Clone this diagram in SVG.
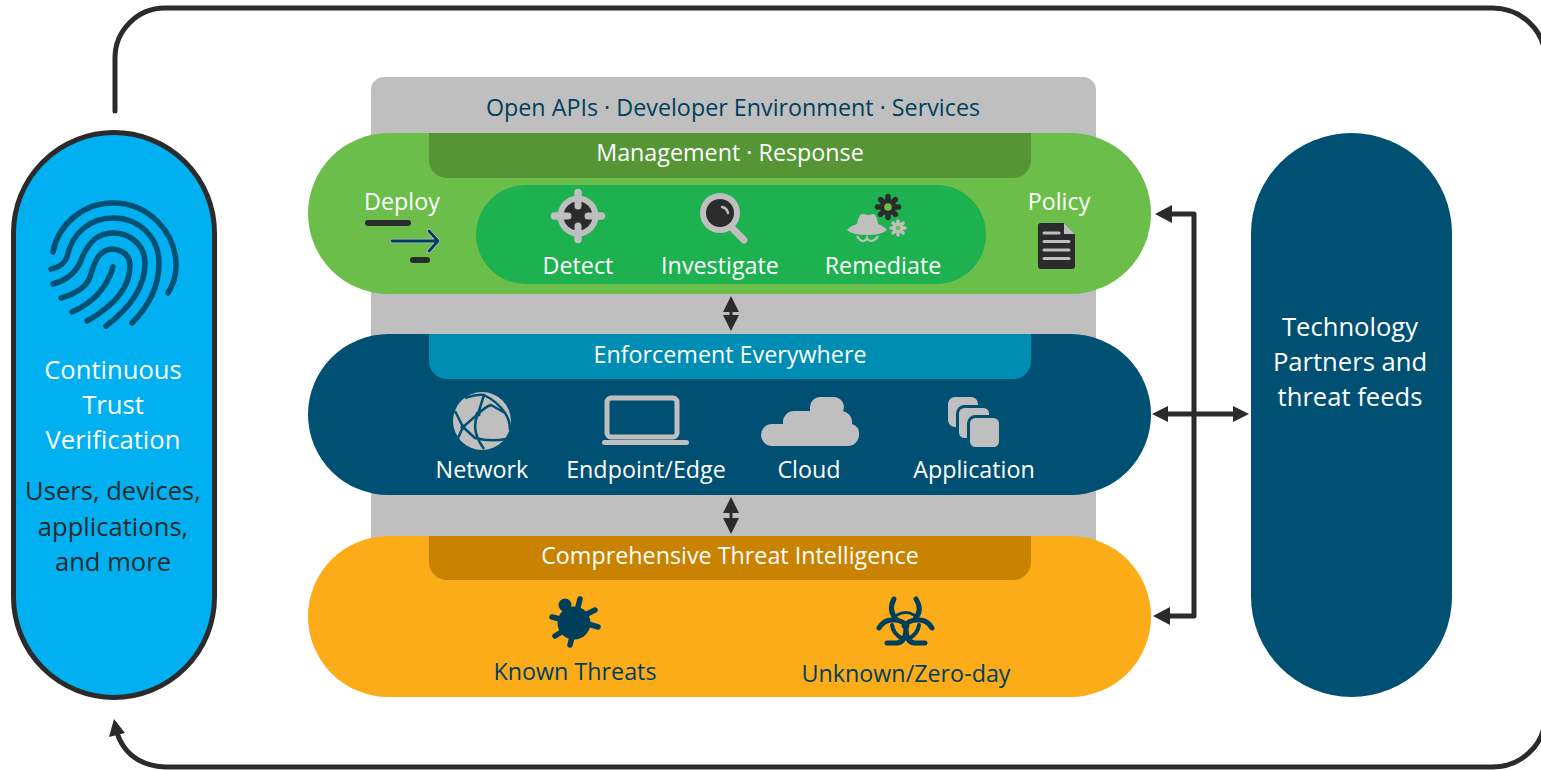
<svg xmlns="http://www.w3.org/2000/svg" width="1541" height="770" viewBox="0 0 1541 770">
<style>
text{font-family:"Open Sans","Noto Sans","Liberation Sans",sans-serif;font-size:23.3px;text-anchor:middle}
.big{font-size:25.6px}
.w{fill:#fff}.n{fill:#003f5c}.d{fill:#2b2b2b}
.g{fill:#bfbfbf}.k{fill:#2b2b2b}
.line{fill:none;stroke:#2b2b2b;stroke-width:5;stroke-linecap:round;stroke-linejoin:round}
.fp{fill:none;stroke:#005073;stroke-width:5.5;stroke-linecap:round;stroke-linejoin:round}
.bz{fill:none;stroke:#003f5c;stroke-width:5;stroke-linecap:round;stroke-linejoin:round}
</style>
<rect x="0" y="0" width="1541" height="770" fill="#fff"/>
<g id="platform"><rect x="371" y="77" width="725" height="475" rx="13" fill="#bfbfbf"/><text class="n" x="733" y="116">Open APIs · Developer Environment · Services</text></g>
<g id="management">
<rect x="308" y="133" width="843" height="161" rx="80.5" fill="#6cbe4a"/>
<path d="M429 133H1031V160a18 18 0 0 1-18 18H447a18 18 0 0 1-18-18Z" fill="#559535"/>
<text class="w" x="730" y="161">Management · Response</text>
<rect x="476" y="185" width="510" height="99" rx="49.5" fill="#1db24f"/>
<text class="w" x="402" y="210">Deploy</text>
<rect x="365" y="220" width="46" height="6" rx="3" class="k"/>
<rect x="410" y="257" width="20" height="6" rx="3" class="k"/>
<path d="M392 241H437M429 231L438 241L429 251" fill="none" stroke="#bfbfbf" stroke-width="4.500" stroke-linecap="round" stroke-linejoin="round"/>
<path d="M392 241H437M429 231L438 241L429 251" fill="none" stroke="#003f5c" stroke-width="2.800" stroke-linecap="round" stroke-linejoin="round"/>
<path d="M578 192.500V239.500M554.500 216H601.500" stroke="#bfbfbf" stroke-width="7.500" stroke-linecap="round"/>
<circle cx="578" cy="216" r="20.500" class="g"/>
<circle cx="578" cy="216" r="14.500" class="k"/>
<path d="M578 201V206M578 226V231M563 216H568M588 216H593" stroke="#bfbfbf" stroke-width="7" stroke-linecap="round"/>
<text class="w" x="578" y="274">Detect</text>
<path d="M733 229L744 240" stroke="#bfbfbf" stroke-width="7" stroke-linecap="round"/>
<circle cx="720" cy="213" r="20" class="g"/>
<circle cx="720" cy="213" r="14" class="k"/>
<path d="M722 207Q727 208 728 213" fill="none" stroke="#bfbfbf" stroke-width="2.500" stroke-linecap="round"/>
<text class="w" x="720" y="274">Investigate</text>
<path d="M847 230Q850 226 857 224Q858 218 860 215Q863 213 867 215Q871 215 874 214Q877 216 878 224Q884 226 887 230Q882 235 867 235Q852 235 847 230Z" class="g"/>
<path d="M857 236Q860 241 863 241Q866 241 867 238Q868 241 872 241Q876 240 878 236" fill="none" stroke="#bfbfbf" stroke-width="2.200"/>
<g id="cog-large" class="k"><circle cx="888" cy="207" r="8"/><g stroke="#2b2b2b" stroke-width="5.500" stroke-linecap="round"><path d="M888 196.500V217.500M877.500 207H898.500M880.600 199.600L895.400 214.400M895.400 199.600L880.600 214.400"/></g><circle cx="888" cy="207" r="3.800" fill="#6cbe4a"/></g>
<g id="cog-small" class="g"><circle cx="898" cy="228" r="5.500"/><g stroke="#bfbfbf" stroke-width="3.500" stroke-linecap="round"><path d="M898 221V235M891 228H905M893 223L903 233M903 223L893 233"/></g><circle cx="898" cy="228" r="2.200" fill="#6cbe4a"/></g>
<text class="w" x="883" y="274">Remediate</text>
<text class="w" x="1059" y="210">Policy</text>
<path d="M1041 223H1064L1075 234V266a3 3 0 0 1-3 3H1041a3 3 0 0 1-3-3V226a3 3 0 0 1 3-3Z" class="k"/>
<path d="M1064 223L1075 234H1064Z" class="g"/>
<path d="M1044 233H1059M1044 241.500H1069M1044 250H1069M1044 258.500H1069" stroke="#bfbfbf" stroke-width="3" stroke-linecap="round"/>
</g>
<g id="enforcement">
<rect x="308" y="334" width="843" height="161" rx="80.5" fill="#005073"/>
<path d="M429 334H1031V361a18 18 0 0 1-18 18H447a18 18 0 0 1-18-18Z" fill="#008db3"/>
<text class="w" x="730" y="363">Enforcement Everywhere</text>
<circle cx="482" cy="421" r="29" class="g"/>
<path d="M465 398Q478 394 484 395Q498 402 505 413Q510 420 510 430M484 395L478 414L463 427L475 438Q490 442 506 439M478 414Q470 430 484 449M478 414Q485 407 491 405L505 413M455 411L463 427L458 438" fill="none" stroke="#005073" stroke-width="2.500"/>
<circle cx="478" cy="414" r="2.500" fill="#005073"/><circle cx="463" cy="427" r="2.500" fill="#005073"/>
<rect x="607" y="398" width="70" height="39" rx="4" fill="none" stroke="#bfbfbf" stroke-width="5"/>
<rect x="602" y="440" width="87" height="5" rx="2.500" class="g"/>
<text class="w" x="482" y="478">Network</text>
<text class="w" x="646" y="478">Endpoint/Edge</text>
<path d="M772 446A11 11 0 0 1 772 424H783V422A11 11 0 0 1 794 411H810V407A10 10 0 0 1 820 397H833A10 10 0 0 1 843 411Q853 414 852 424Q860 427 859 435A11 11 0 0 1 848 446Z" class="g"/>
<text class="w" x="809" y="478">Cloud</text>
<rect x="948" y="397" width="30" height="30" rx="7" class="g"/>
<rect x="957.500" y="406.500" width="33" height="33" rx="7" class="g" stroke="#005073" stroke-width="3"/>
<rect x="968.500" y="416.500" width="32" height="32" rx="7" class="g" stroke="#005073" stroke-width="3"/>
<text class="w" x="974" y="478">Application</text>
</g>
<g id="intelligence">
<rect x="308" y="536" width="843" height="161" rx="80.5" fill="#fcab19"/>
<path d="M429 536H1031V562a18 18 0 0 1-18 18H447a18 18 0 0 1-18-18Z" fill="#c98300"/>
<text class="w" x="730" y="564">Comprehensive Threat Intelligence</text>
<g id="bug" fill="#003f5c"><circle cx="574" cy="623" r="16.500"/><circle cx="565" cy="605" r="6.500"/><path d="M560 607L580 610L573 622Z"/>
<path d="M580 599L578 607M595 610L585 615M598 627L588 624M570 645L572 637M555 636L563 631M552 617L560 619" stroke="#003f5c" stroke-width="5.500" stroke-linecap="round"/></g>
<text class="n" x="575" y="680">Known Threats</text>
<g id="biohazard" class="bz">
<path d="M894 599Q888 610 896 619M916 599Q923 610 915 619"/>
<path d="M879 628Q884 619 894 620Q902 620 907 626M932 628Q927 619 917 620Q909 620 904 626"/>
<path d="M887 643H897Q906 642 906 628M925 643H914Q906 642 906 628"/>
<path d="M892 625Q893 634 903 639M919 625Q918 634 908 639" stroke-width="4"/>
<path d="M897 615Q906 610 914 615" stroke-width="3"/>
</g>
<text class="n" x="906" y="682">Unknown/Zero-day</text>
</g>
<g id="trust">
<rect x="13.500" y="132.500" width="201" height="565" rx="100.500" fill="#00b0f0" stroke="#2b2b2b" stroke-width="5"/>
<g class="fp">
<path d="M53 252A61 61 0 0 1 113 203A63 63 0 0 1 176 267Q176 280 168 293"/>
<path d="M51 269Q63 267 67 257C72 233 90 218 113 218C140 218 159 238 159 263C159 285 150 305 132 323"/>
<path d="M53 284Q72 279 80 263C87 243 97 233 113 233C131 233 145 246 145 263C145 288 130 308 106 326"/>
<path d="M61 298Q85 291 90 277Q94 263 98 257Q104 249 113 249Q130 251 130 266C130 290 110 308 87 321"/>
<path d="M72 312Q104 298 113 267"/>
</g>
<text class="w big" x="113" y="379">Continuous</text>
<text class="w big" x="113" y="414">Trust</text>
<text class="w big" x="113" y="449">Verification</text>
<text class="d big" x="113" y="500">Users, devices,</text>
<text class="d big" x="113" y="536">applications,</text>
<text class="d big" x="113" y="571">and more</text>
</g>
<g id="partners">
<rect x="1251" y="133" width="201" height="564" rx="100.500" fill="#005073"/>
<text class="w big" x="1350" y="336">Technology</text>
<text class="w big" x="1350" y="371">Partners and</text>
<text class="w big" x="1350" y="406">threat feeds</text>
</g>
<g id="connectors">
<path class="line" d="M115 111V58A50 50 0 0 1 165 8H1491A53 50 0 0 1 1545 58V717A53 50 0 0 1 1491 767H165Q128 765 117 733"/>
<path d="M114 719L125 733L109 737Z" class="k"/>
<path d="M1171 214H1194V616H1168" fill="none" stroke="#2b2b2b" stroke-width="5" stroke-linejoin="round"/>
<path d="M1155 214L1172 205V223Z" class="k"/>
<path d="M1153 616L1170 607V625Z" class="k"/>
<path d="M1168 414H1235" stroke="#2b2b2b" stroke-width="5"/>
<path d="M1152 414L1168 406V422Z" class="k"/>
<path d="M1249 414L1233 406V422Z" class="k"/>
<path d="M731 296L739 312H723Z" class="k"/><path d="M731 331L739 315H723Z" class="k"/>
<path d="M731 312V315" stroke="#2b2b2b" stroke-width="3"/>
<path d="M731 497L739 513H723Z" class="k"/><path d="M731 534L739 518H723Z" class="k"/>
<path d="M731 513V518" stroke="#2b2b2b" stroke-width="3"/>
</g>
</svg>
